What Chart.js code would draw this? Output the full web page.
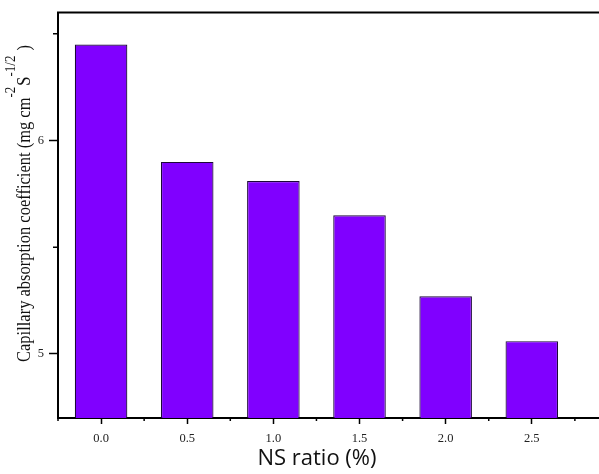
<!DOCTYPE html>
<html>
<head>
<meta charset="utf-8">
<script src="https://cdn.jsdelivr.net/npm/chart.js@4/dist/chart.umd.min.js"></script>
<style>
  html, body { margin: 0; padding: 0; background: #fff; }
  #wrap { width: 599px; height: 474px; }
</style>
</head>
<body>
<div id="wrap"><canvas id="chart"></canvas></div>
<script>
const ratios = [0.0, 0.5, 1.0, 1.5, 2.0, 2.5];
const coefficients = [6.45, 5.90, 5.81, 5.65, 5.27, 5.06];

const yMajorTicks = [5, 6];
const yMinorTicks = [5.5, 6.5];
const xMajorTicks = [0.0, 0.5, 1.0, 1.5, 2.0, 2.5];
const xMinorTicks = [-0.25, 0.25, 0.75, 1.25, 1.75, 2.25, 2.75];

const xTitle = 'NS ratio (%)';
// y title pieces: [text, superscript?]
const yTitleParts = [
  ['Capillary absorption coefficient (mg cm', false],
  ['-2', true],
  ['S', false],
  ['-1/2', true],
  [' )', false]
];

const frameAndLabels = {
  id: 'frameAndLabels',
  afterDraw(chart) {
    const { ctx, chartArea, scales } = chart;
    ctx.save();
    ctx.strokeStyle = '#000';
    // top frame line
    ctx.lineWidth = 2;
    ctx.beginPath();
    ctx.moveTo(chartArea.left - 1, chartArea.top);
    ctx.lineTo(chartArea.right, chartArea.top);
    ctx.stroke();
    // minor ticks
    ctx.lineWidth = 1.5;
    ctx.beginPath();
    for (const v of yMinorTicks) {
      const py = scales.y.getPixelForValue(v);
      ctx.moveTo(chartArea.left - 5, py);
      ctx.lineTo(chartArea.left, py);
    }
    for (const v of xMinorTicks) {
      const px = scales.x.getPixelForValue(v);
      ctx.moveTo(px, chartArea.bottom);
      ctx.lineTo(px, chartArea.bottom + 3);
    }
    ctx.stroke();

    // x title
    ctx.fillStyle = '#111';
    ctx.font = '22px "Open Sans"';
    ctx.textAlign = 'center';
    ctx.textBaseline = 'middle';
    ctx.fillText(xTitle, 317, 459);

    // rotated y title with superscripts
    ctx.translate(30, 362);
    ctx.rotate(-Math.PI / 2);
    ctx.scale(1, 1.12);
    ctx.textAlign = 'left';
    ctx.textBaseline = 'alphabetic';
    let pos = 0;
    for (const [text, sup] of yTitleParts) {
      ctx.font = (sup ? '13px' : '16.5px') + ' "Liberation Serif"';
      ctx.fillText(text, pos, sup ? -13 : 0);
      pos += ctx.measureText(text).width + (sup ? 1 : 0);
    }
    ctx.restore();
  }
};

new Chart(document.getElementById('chart'), {
  type: 'bar',
  data: {
    datasets: [{
      data: ratios.map((r, i) => ({ x: r, y: coefficients[i] })),
      backgroundColor: '#8000ff',
      borderColor: '#1c0838',
      borderWidth: 1.2,
      borderSkipped: false,
      categoryPercentage: 1.0,
      barPercentage: 0.61
    }]
  },
  options: {
    responsive: true,
    maintainAspectRatio: false,
    animation: false,
    layout: { padding: { top: 12, right: 0, left: 0, bottom: 0 } },
    plugins: { legend: { display: false }, tooltip: { enabled: false } },
    scales: {
      x: {
        type: 'linear',
        min: -0.25,
        max: 2.89,
        offset: false,
        afterBuildTicks: s => { s.ticks = xMajorTicks.map(v => ({ value: v })); },
        afterFit: s => { s.height = 56; },
        grid: { offset: false, drawOnChartArea: false, drawTicks: true, tickLength: 6, tickColor: '#000', tickWidth: 1.5 },
        border: { display: true, color: '#000', width: 2 },
        ticks: {
          padding: 7,
          color: '#222',
          font: { family: 'Liberation Serif', size: 12.5 },
          callback: v => Number(v).toFixed(1)
        }
      },
      y: {
        min: 4.7,
        max: 6.6,
        afterBuildTicks: s => { s.ticks = yMajorTicks.map(v => ({ value: v })); },
        afterFit: s => { s.width = 58; },
        grid: { drawOnChartArea: false, drawTicks: true, tickLength: 9, tickColor: '#000', tickWidth: 1.5 },
        border: { display: true, color: '#000', width: 2 },
        ticks: {
          padding: 5,
          color: '#222',
          font: { family: 'Liberation Serif', size: 12.5 },
          callback: v => String(v)
        }
      }
    }
  },
  plugins: [frameAndLabels]
});
</script>
</body>
</html>
